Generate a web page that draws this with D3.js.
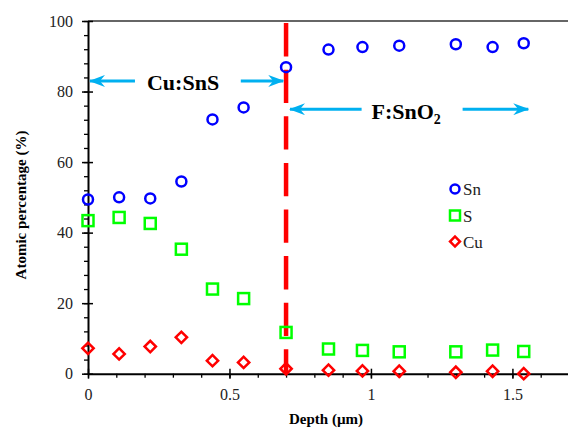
<!DOCTYPE html>
<html>
<head>
<meta charset="utf-8">
<script src="https://cdn.jsdelivr.net/npm/d3@7"></script>
<style>
body { margin: 0; background: #fff; }
</style>
</head>
<body>
<svg id="chart" width="568" height="428"></svg>
<script>
// depth positions (um) and atomic percentages
var depth = [0, 0.11, 0.22, 0.33, 0.44, 0.55, 0.70, 0.85, 0.97, 1.10, 1.30, 1.43, 1.54];
var sn = [49.4, 50.0, 49.7, 54.5, 72.1, 75.5, 86.9, 91.9, 92.6, 93.0, 93.4, 92.6, 93.7];
var s  = [43.4, 44.3, 42.6, 35.3, 24.0, 21.3, 11.7, 7.0, 6.6, 6.2, 6.2, 6.7, 6.3];
var cu = [7.2, 5.6, 7.7, 10.3, 3.7, 3.2, 1.4, 1.0, 0.8, 0.7, 0.4, 0.7, 0.0];

var xTicks = [0, 0.5, 1, 1.5];
var yTicks = [0, 20, 40, 60, 80, 100];
var boundary = 0.70;
var serif = "'Liberation Serif', 'Times New Roman', serif";

var svg = d3.select("#chart");
var x = d3.scaleLinear().domain([0, 1.7]).range([88, 569]);
var y = d3.scaleLinear().domain([0, 100]).range([373.7, 21]);

// top frame line
svg.append("line")
    .attr("x1", x(0)).attr("x2", 568)
    .attr("y1", y(100)).attr("y2", y(100))
    .attr("stroke", "#333").attr("stroke-width", 1.5);

// minor ticks
svg.append("g")
    .attr("transform", "translate(0," + y(0) + ")")
    .call(d3.axisBottom(x).tickValues(d3.range(0, 1.71, 0.1)).tickSize(4).tickFormat(""))
    .call(g => g.select(".domain").remove())
    .selectAll("line").attr("stroke", "#000").attr("stroke-width", 1.3);
svg.append("g")
    .attr("transform", "translate(" + x(0) + ",0)")
    .call(d3.axisLeft(y).tickValues(d3.range(0, 101, 4)).tickSize(4).tickFormat(""))
    .call(g => g.select(".domain").remove())
    .selectAll("line").attr("stroke", "#000").attr("stroke-width", 1.3);

// major axes
var xAxis = svg.append("g")
    .attr("transform", "translate(0," + y(0) + ")")
    .call(d3.axisBottom(x).tickValues(xTicks).tickSize(5).tickPadding(10).tickSizeOuter(0)
        .tickFormat(d3.format("")));
var yAxis = svg.append("g")
    .attr("transform", "translate(" + x(0) + ",0)")
    .call(d3.axisLeft(y).tickValues(yTicks).tickSize(6).tickPadding(9).tickSizeOuter(0));

[xAxis, yAxis].forEach(function(a){
    a.select(".domain").attr("stroke", "#000").attr("stroke-width", 2);
    a.selectAll(".tick text").attr("font-size", "16px").attr("fill", "#222")
        .style("font-family", serif);
});
xAxis.selectAll(".tick line").attr("y1", -5).attr("stroke-width", 1.5);
yAxis.selectAll(".tick line").attr("x1", 5).attr("stroke-width", 1.5);

// axis titles
svg.append("text")
    .attr("x", 326).attr("y", 424)
    .attr("text-anchor", "middle")
    .attr("font-size", "15px").attr("font-weight", "bold")
    .style("font-family", serif)
    .text("Depth (\u00b5m)");
svg.append("text")
    .attr("transform", "translate(26,205) rotate(-90)")
    .attr("text-anchor", "middle")
    .attr("font-size", "15px").attr("font-weight", "bold")
    .style("font-family", serif)
    .text("Atomic percentage (%)");

// boundary between layers
svg.append("line")
    .attr("x1", x(boundary)).attr("x2", x(boundary))
    .attr("y1", y(99.4)).attr("y2", y(0))
    .attr("stroke", "#ff0000").attr("stroke-width", 4.5)
    .attr("stroke-dasharray", "33.3,13.3");

// arrow marker
svg.append("defs").append("marker")
    .attr("id", "head")
    .attr("viewBox", "0 0 16 12")
    .attr("refX", 15).attr("refY", 6)
    .attr("markerWidth", 16).attr("markerHeight", 12)
    .attr("markerUnits", "userSpaceOnUse")
    .attr("orient", "auto")
    .append("path")
    .attr("d", "M0,0 L16,6 L0,12 L5,6 Z")
    .attr("fill", "#00b0f0");

var arrows = [
    {from: 0.166, to: 0.007, v: 83.0},
    {from: 0.54, to: 0.69, v: 83.0},
    {from: 0.967, to: 0.714, v: 75.0},
    {from: 1.324, to: 1.556, v: 75.0}
];
svg.selectAll(".arrow").data(arrows).join("line")
    .attr("class", "arrow")
    .attr("x1", d => x(d.from)).attr("x2", d => x(d.to))
    .attr("y1", d => y(d.v)).attr("y2", d => y(d.v))
    .attr("stroke", "#00b0f0").attr("stroke-width", 3)
    .attr("marker-end", "url(#head)");

svg.append("text")
    .attr("x", x(0.336)).attr("y", y(80.5))
    .attr("text-anchor", "middle")
    .attr("font-size", "22px").attr("font-weight", "bold")
    .style("font-family", serif)
    .text("Cu:SnS");
var f = svg.append("text")
    .attr("x", x(1.002)).attr("y", y(72.2))
    .attr("font-size", "22px").attr("font-weight", "bold")
    .style("font-family", serif)
    .text("F:SnO");
f.append("tspan").attr("font-size", "14px").attr("dy", 5).text("2");

// data markers
var pts = depth.map((d, i) => ({d: d, sn: sn[i], s: s[i], cu: cu[i]}));

svg.selectAll(".cu").data(pts).join("rect")
    .attr("class", "cu")
    .attr("x", -4).attr("y", -4).attr("width", 8).attr("height", 8)
    .attr("transform", d => "translate(" + x(d.d) + "," + y(d.cu) + ") rotate(45)")
    .attr("fill", "none").attr("stroke", "#ff0000").attr("stroke-width", 2.5);

svg.selectAll(".s").data(pts).join("rect")
    .attr("class", "s")
    .attr("x", d => x(d.d) - 5.5).attr("y", d => y(d.s) - 5.5)
    .attr("width", 11).attr("height", 11)
    .attr("fill", "none").attr("stroke", "#00ff00").attr("stroke-width", 2.5);

svg.selectAll(".sn").data(pts).join("circle")
    .attr("class", "sn")
    .attr("cx", d => x(d.d)).attr("cy", d => y(d.sn)).attr("r", 5)
    .attr("fill", "none").attr("stroke", "#0000ff").attr("stroke-width", 2.5);

// legend
var legend = svg.append("g").attr("transform", "translate(455,189)");
legend.append("circle").attr("r", 4.5)
    .attr("fill", "none").attr("stroke", "#0000ff").attr("stroke-width", 2.5);
legend.append("rect").attr("x", -5).attr("y", 21.5).attr("width", 10).attr("height", 10)
    .attr("fill", "none").attr("stroke", "#00ff00").attr("stroke-width", 2.5);
legend.append("rect").attr("x", -3.5).attr("y", -3.5).attr("width", 7).attr("height", 7)
    .attr("transform", "translate(0,52.5) rotate(45)")
    .attr("fill", "none").attr("stroke", "#ff0000").attr("stroke-width", 2.5);
legend.selectAll("text").data(["Sn", "S", "Cu"]).join("text")
    .attr("x", 8).attr("y", (d, i) => 6 + i * 26.5)
    .attr("font-size", "17px").attr("fill", "#222")
    .style("font-family", serif)
    .text(d => d);
</script>
</body>
</html>
